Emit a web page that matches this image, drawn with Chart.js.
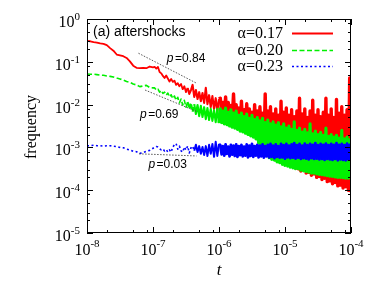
<!DOCTYPE html>
<html><head><meta charset="utf-8">
<script src="https://cdn.jsdelivr.net/npm/chart.js@4/dist/chart.umd.min.js"></script>
<style>html,body{margin:0;padding:0;background:#fff;}canvas{display:block;}</style>
</head><body>
<canvas id="c" width="378" height="281"></canvas>
<script>
// log10 of time t
const logT = [
-8.00,-7.95,-7.90,-7.85,-7.80,-7.75,-7.70,-7.65,-7.60,-7.55,-7.50,-7.45,-7.40,-7.35,-7.30,-7.25,-7.20,-7.15,-7.10,-7.05,-7.00,
-6.975,-6.95,-6.925,-6.90,-6.875,-6.85,-6.825,-6.80,-6.775,-6.75,-6.725,-6.70,-6.675,-6.65,-6.625,-6.60,-6.575,-6.55,-6.525,-6.50,
-6.475,-6.45,-6.425,-6.40,-6.375,-6.35,-6.325,-6.30,-6.275,-6.25,-6.225,-6.20,-6.175,-6.15,-6.125,-6.10,-6.075,-6.05,-6.025,-6.00,
-5.98,-5.96,-5.94,-5.92,-5.90,-5.88,-5.86,-5.84,-5.82,-5.80,
-5.78,-5.76,-5.74,-5.72,-5.70,-5.68,-5.66,-5.64,-5.62,-5.60,
-5.58,-5.56,-5.54,-5.52,-5.50,-5.48,-5.46,-5.44,-5.42,-5.40,
-5.38,-5.36,-5.34,-5.32,-5.30,-5.28,-5.26,-5.24,-5.22,-5.20,
-5.18,-5.16,-5.14,-5.12,-5.10,-5.08,-5.06,-5.04,-5.02,-5.00,
-4.98,-4.96,-4.94,-4.92,-4.90,-4.88,-4.86,-4.84,-4.82,-4.80,
-4.78,-4.76,-4.74,-4.72,-4.70,-4.68,-4.66,-4.64,-4.62,-4.60,
-4.58,-4.56,-4.54,-4.52,-4.50,-4.48,-4.46,-4.44,-4.42,-4.40,
-4.38,-4.36,-4.34,-4.32,-4.30,-4.28,-4.26,-4.24,-4.22,-4.20,
-4.18,-4.16,-4.14,-4.12,-4.10,-4.08,-4.06,-4.04,-4.02,-4.00
];
// log10 of frequency, alpha = 0.17
const logF017 = [
-0.51,-0.52,-0.54,-0.55,-0.57,-0.58,-0.61,-0.68,-0.74,-0.83,-0.85,-0.87,-0.91,-0.99,-1.09,-1.14,-1.15,-1.14,-1.15,-1.11,-1.13,
-1.12,-1.16,-1.12,-1.24,-1.27,-1.33,-1.38,-1.32,-1.39,-1.46,-1.40,-1.47,-1.44,-1.54,-1.50,-1.57,-1.52,-1.64,-1.57,-1.71,
-1.61,-1.75,-1.66,-1.54,-1.82,-1.66,-1.87,-1.71,-1.92,-1.73,-1.96,-1.61,-1.99,-1.78,-2.06,-1.80,-2.10,-1.85,-2.15,-1.87,
-1.85,-2.20,-1.95,-2.25,-1.82,-2.30,-1.95,-2.32,-2.02,-2.36,
-1.75,-2.40,-2.00,-2.45,-2.08,-2.50,-1.92,-2.52,-2.12,-2.56,
-1.98,-2.60,-2.10,-2.63,-2.18,-2.66,-2.00,-2.72,-2.15,-2.80,
-2.05,-2.90,-2.20,-3.00,-1.75,-3.12,-2.15,-3.20,-2.05,-3.25,
-2.22,-3.25,-2.10,-3.30,-2.25,-3.32,-1.92,-3.28,-2.18,-3.35,
-2.08,-3.38,-2.25,-3.42,-2.12,-3.40,-2.28,-3.48,-2.15,-3.50,
-1.85,-3.55,-2.22,-3.52,-2.10,-3.60,-2.30,-3.58,-2.15,-3.65,
-1.90,-3.62,-2.25,-3.70,-2.12,-3.68,-2.28,-3.75,-2.18,-3.72,
-1.85,-3.80,-2.25,-3.78,-2.10,-3.85,-2.30,-3.82,-1.88,-3.90,
-2.20,-3.88,-2.05,-3.95,-2.25,-3.92,-2.12,-4.00,-1.38,-4.05
];
// log10 of frequency, alpha = 0.20
const logF020 = [
-1.285,-1.29,-1.29,-1.30,-1.31,-1.315,-1.33,-1.34,-1.355,-1.38,-1.40,-1.425,-1.46,-1.48,-1.52,-1.54,-1.58,-1.565,-1.55,-1.60,-1.61,
-1.61,-1.66,-1.64,-1.71,-1.67,-1.74,-1.71,-1.78,-1.73,-1.82,-1.77,-1.86,-1.80,-1.90,-1.83,-1.96,-1.87,-2.01,-1.90,-2.06,
-1.94,-2.10,-1.96,-2.17,-1.99,-2.22,-2.01,-2.27,-2.03,-2.29,-2.06,-2.34,-2.08,-2.36,-2.10,-2.38,-2.13,-2.41,-2.10,-2.43,
-2.10,-2.42,-2.15,-2.45,-2.08,-2.47,-2.18,-2.50,-2.12,-2.53,
-2.20,-2.55,-2.15,-2.58,-2.25,-2.62,-2.20,-2.64,-2.28,-2.67,
-2.22,-2.70,-2.32,-2.73,-2.25,-2.76,-2.35,-2.80,-2.30,-2.90,
-2.38,-3.00,-2.32,-3.10,-2.42,-3.18,-2.36,-3.24,-2.45,-3.28,
-2.40,-3.30,-2.48,-3.34,-2.42,-3.36,-2.52,-3.40,-2.45,-3.42,
-2.55,-3.44,-2.50,-3.46,-2.58,-3.48,-2.40,-3.50,-2.60,-3.50,
-2.55,-3.53,-2.64,-3.55,-2.58,-3.56,-2.66,-3.58,-2.45,-3.60,
-2.68,-3.60,-2.62,-3.62,-2.70,-3.63,-2.65,-3.64,-2.72,-3.65,
-2.55,-3.66,-2.74,-3.67,-2.70,-3.68,-2.76,-3.69,-2.72,-3.70,
-2.78,-3.70,-2.60,-3.71,-2.80,-3.72,-2.76,-3.72,-2.82,-3.74
];
// log10 of frequency, alpha = 0.23
const logF023 = [
-2.96,-2.96,-2.95,-2.96,-2.96,-2.97,-2.96,-2.96,-2.97,-2.98,-3.00,-3.01,-3.04,-3.06,-3.09,-3.10,-3.14,-3.12,-3.09,-3.07,-3.02,
-3.01,-2.98,-2.99,-3.03,-3.06,-3.04,-3.08,-3.05,-3.11,-3.06,-3.11,-2.99,-2.94,-2.91,-3.04,-2.97,-3.08,-3.11,-2.99,-3.06,
-2.97,-3.13,-3.01,-2.97,-3.08,-2.94,-3.11,-2.97,-3.15,-2.99,-3.18,-2.97,-3.20,-2.94,-3.15,-2.92,-3.22,-2.87,-3.20,-2.92,
-2.95,-3.16,-2.97,-3.19,-2.93,-3.15,-2.98,-3.21,-2.94,-3.17,
-2.96,-3.20,-2.93,-3.22,-2.97,-3.18,-2.94,-3.21,-2.98,-3.19,
-2.93,-3.23,-2.96,-3.20,-2.92,-3.22,-2.97,-3.19,-2.94,-3.23,
-2.96,-3.21,-2.93,-3.24,-2.97,-3.21,-2.94,-3.23,-2.92,-3.22,
-2.96,-3.25,-2.93,-3.22,-2.97,-3.24,-2.92,-3.23,-2.95,-3.26,
-2.92,-3.23,-2.96,-3.25,-2.93,-3.24,-2.90,-3.26,-2.95,-3.24,
-2.92,-3.27,-2.96,-3.25,-2.91,-3.26,-2.95,-3.28,-2.92,-3.25,
-2.94,-3.27,-2.90,-3.26,-2.95,-3.28,-2.92,-3.27,-2.94,-3.29,
-2.91,-3.27,-2.95,-3.28,-2.92,-3.29,-2.94,-3.27,-2.90,-3.30,
-2.94,-3.28,-2.92,-3.29,-2.95,-3.30,-2.91,-3.28,-2.94,-3.31
];
const seriesLabels = ['α=0.17','α=0.20','α=0.23'];
// power-law fits (log10 t, log10 frequency) and exponents
const fitLogT084 = [-7.22,-6.34], fitLogF084 = [-0.80,-1.50];
const fitLogT069 = [-7.12,-6.34], fitLogF069 = [-1.66,-2.16];
const fitLogT003 = [-7.21,-6.34], fitLogF003 = [-3.15,-3.20];
const fitP = ['0.84','0.69','0.03'];
const xTickExp = [-8,-7,-6,-5,-4];
const yTickExp = [0,-1,-2,-3,-4,-5];
const panelTitle = '(a) aftershocks';

const pts = (lx, ly) => lx.map((v,i)=>({x:Math.pow(10,v), y:Math.pow(10,ly[i])}));
const fitStyle = {borderColor:'#444', borderWidth:0.9, borderDash:[1.5,1.5], pointRadius:0, order:0};

const SERIF = '"Liberation Serif","Times New Roman",serif';
const SANS = '"Liberation Sans",Arial,sans-serif';

const widthRed = c => {
  const t = c.p0.parsed.x;
  if (t >= 1e-6) return 3.4;
  if (t >= 3.2e-7) return 2.1;
  return undefined;
};
const widthGreen = c => {
  const t = c.p0.parsed.x;
  if (t >= 1e-6) return 3.1;
  if (t >= 3.2e-7) return 2.1;
  return undefined;
};

const decor = {
  id:'decor',
  afterDraw(chart){
    const {ctx, chartArea:a, scales:{x,y}} = chart;
    ctx.save();
    ctx.strokeStyle='#000'; ctx.lineWidth=1; ctx.setLineDash([]);
    const L=(x1,y1,x2,y2)=>{ctx.beginPath();ctx.moveTo(x1,y1);ctx.lineTo(x2,y2);ctx.stroke();};
    const maj=6, mnr=3;
    for (let e=-8;e<=-4;e++){
      const px=Math.round(x.getPixelForValue(Math.pow(10,e)))+0.5;
      L(px,a.bottom,px,a.bottom-maj); L(px,a.top,px,a.top+maj);
      if (e<-4) for (const m of [2,5,8]){
        const q=Math.round(x.getPixelForValue(m*Math.pow(10,e)))+0.5;
        L(q,a.bottom,q,a.bottom-mnr); L(q,a.top,q,a.top+mnr);
      }
    }
    for (let e=-5;e<=0;e++){
      const py=Math.round(y.getPixelForValue(Math.pow(10,e)))+0.5;
      L(a.left,py,a.left+maj,py); L(a.right,py,a.right-maj,py);
      if (e<0) for (const m of [2,3,5,8]){
        const q=Math.round(y.getPixelForValue(m*Math.pow(10,e)))+0.5;
        L(a.left,q,a.left+mnr,q); L(a.right,q,a.right-mnr,q);
      }
    }
    ctx.strokeRect(a.left+0.5,a.top+0.5,a.right-a.left-1,a.bottom-a.top-1);
    ctx.fillStyle='#000'; ctx.textBaseline='alphabetic'; ctx.textAlign='left';
    const bf='16px '+SERIF, ef='11px '+SERIF;
    for (const e of yTickExp){
      const py=y.getPixelForValue(Math.pow(10,e));
      const es=String(e);
      ctx.font=ef; const we=ctx.measureText(es).width;
      ctx.font=bf; const wb=ctx.measureText('10').width;
      const right=a.left-7;
      ctx.fillText('10',right-we-wb,py+8);
      ctx.font=ef; ctx.fillText(es,right-we,py+1);
    }
    for (const e of xTickExp){
      const px=x.getPixelForValue(Math.pow(10,e));
      const es=String(e);
      ctx.font=ef; const we=ctx.measureText(es).width;
      ctx.font=bf; const wb=ctx.measureText('10').width;
      const s=px-(we+wb)/2;
      ctx.fillText('10',s,a.bottom+22);
      ctx.font=ef; ctx.fillText(es,s+wb,a.bottom+14);
    }
    ctx.font='italic 17px '+SERIF; ctx.textAlign='center'; ctx.textBaseline='middle';
    ctx.fillText('t',(a.left+a.right)/2,a.bottom+38);
    ctx.save(); ctx.translate(32,(a.top+a.bottom)/2+1); ctx.rotate(-Math.PI/2);
    ctx.font='16px '+SERIF; ctx.fillText('frequency',0,0); ctx.restore();
    ctx.textAlign='left'; ctx.font='14px '+SANS;
    ctx.fillText(panelTitle,a.left+6,a.top+13);
    const pAt=[[-6.79,-0.92],[-7.197,-2.24],[-7.07,-3.41]];
    pAt.forEach((p,i)=>{
      const px=x.getPixelForValue(Math.pow(10,p[0])), py=y.getPixelForValue(Math.pow(10,p[1]));
      ctx.font='italic 12px '+SANS; ctx.fillText('p',px,py);
      const wp=ctx.measureText('p').width;
      ctx.font='12px '+SANS; ctx.fillText('='+fitP[i],px+wp+1.5,py);
    });
    const ds=chart.data.datasets;
    const rows=[14,31,47];
    ctx.font='16px '+SERIF; ctx.textAlign='right';
    for (let i=0;i<3;i++){
      const yy=a.top+rows[i];
      ctx.fillStyle='#000'; ctx.fillText(seriesLabels[i],a.right-68,yy+1);
      ctx.strokeStyle=ds[i].borderColor; ctx.lineWidth=ds[i].borderWidth;
      ctx.setLineDash(ds[i].borderDash||[]);
      L(a.right-59,yy+0.5,a.right-18,yy+0.5);
    }
    ctx.restore();
  }
};

new Chart(document.getElementById('c'), {
  type:'line',
  data:{datasets:[
    {label:seriesLabels[0], data:pts(logT,logF017), borderColor:'#ff0000', borderWidth:1.8, pointRadius:0, order:3, borderJoinStyle:'round',
      segment:{borderWidth: widthRed}},
    {label:seriesLabels[1], data:pts(logT,logF020), borderColor:'#00f000', borderWidth:1.6, borderDash:[5,2.5], pointRadius:0, order:2, borderJoinStyle:'round',
      segment:{borderWidth: widthGreen, borderDash: c => c.p0.parsed.x >= 4e-7 ? [] : undefined}},
    {label:seriesLabels[2], data:pts(logT,logF023), borderColor:'#0000ff', borderWidth:1.6, borderDash:[2,2.5], pointRadius:0, order:1, borderJoinStyle:'round',
      segment:{
        borderWidth: c => c.p0.parsed.x >= 1e-6 ? 2.8 : (c.p0.parsed.x >= 4e-7 ? 2 : undefined),
        borderDash: c => c.p0.parsed.x >= 4e-7 ? [] : undefined}},
    Object.assign({label:'fit1', data:pts(fitLogT084,fitLogF084)}, fitStyle),
    Object.assign({label:'fit2', data:pts(fitLogT069,fitLogF069)}, fitStyle),
    Object.assign({label:'fit3', data:pts(fitLogT003,fitLogF003)}, fitStyle)
  ]},
  options:{
    responsive:false, animation:false, devicePixelRatio:1,
    layout:{padding:{left:87,top:19,right:27,bottom:48}},
    scales:{
      x:{type:'logarithmic',min:1e-8,max:1e-4,display:false},
      y:{type:'logarithmic',min:1e-5,max:1,display:false}
    },
    plugins:{legend:{display:false},tooltip:{enabled:false}}
  },
  plugins:[decor]
});
</script>
</body></html>
